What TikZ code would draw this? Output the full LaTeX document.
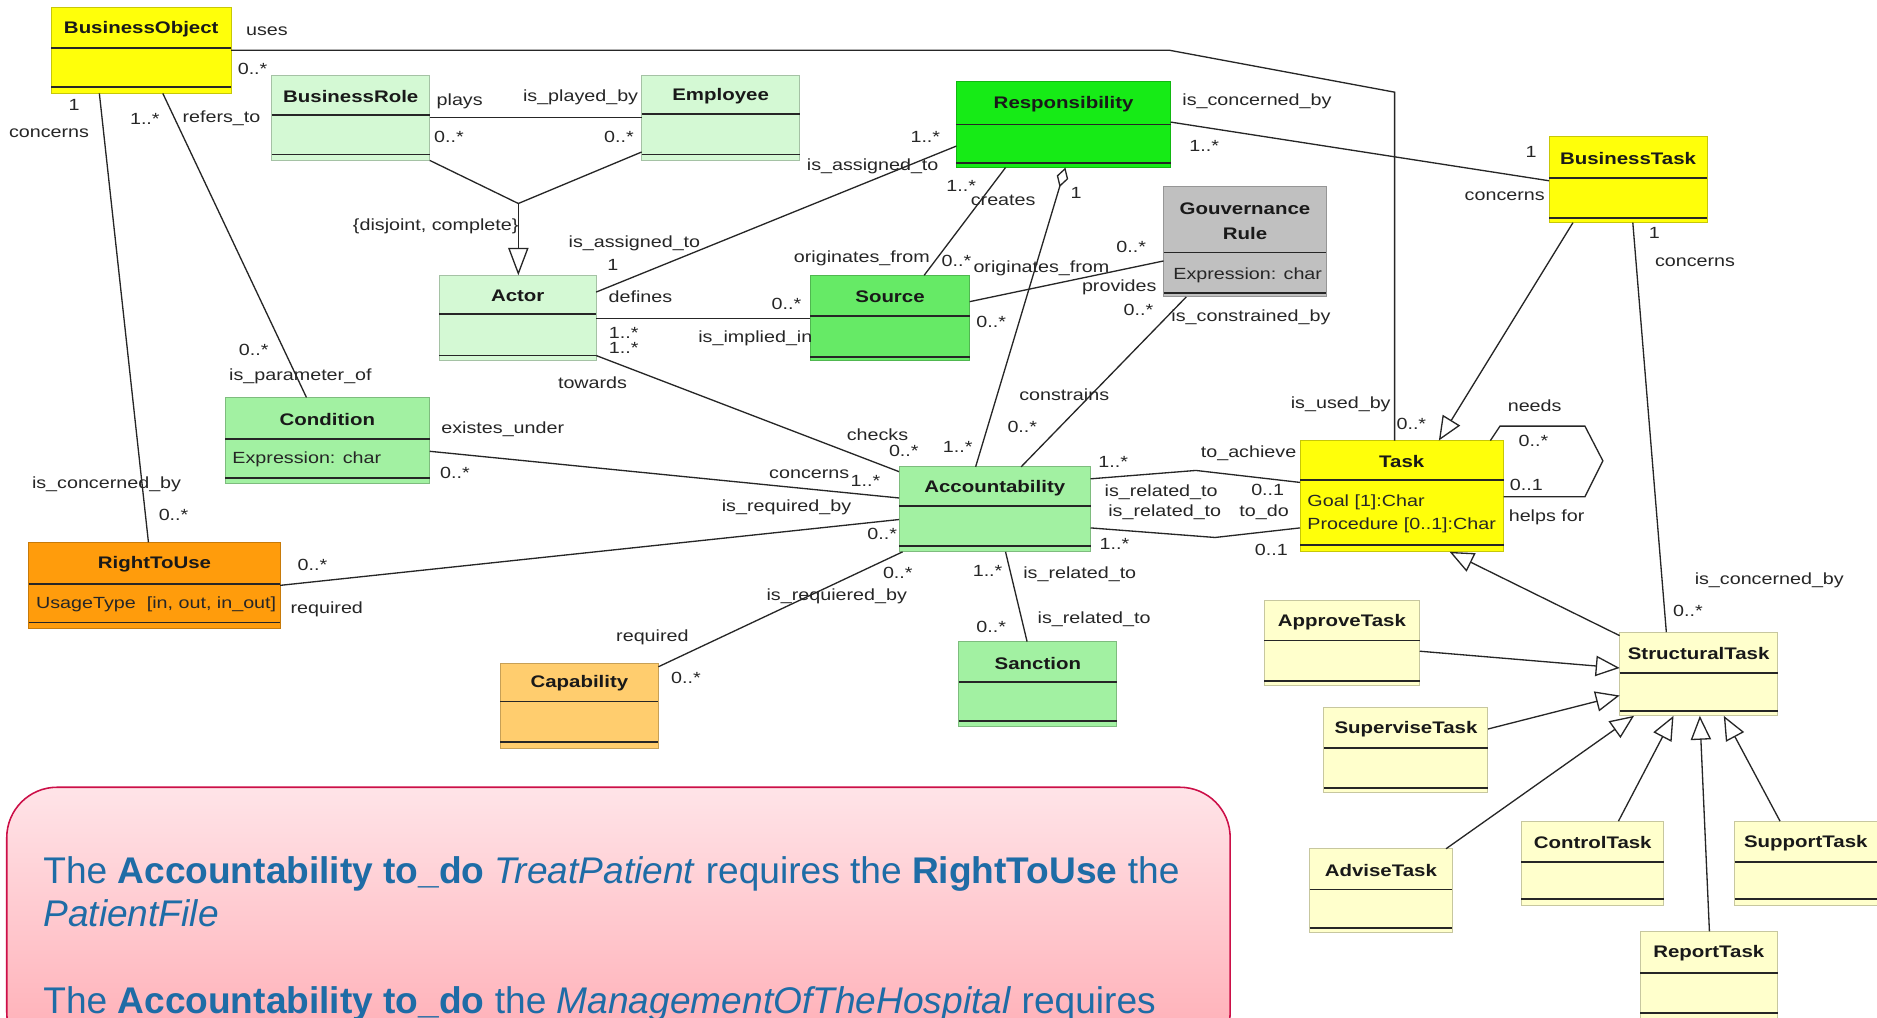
\documentclass[tikz,border=0pt]{standalone}
\usepackage{fontspec}
\setmainfont{Liberation Sans}
\newfontfamily\umlfont[FakeStretch=1.22]{Liberation Sans}
\usetikzlibrary{arrows.meta}

\definecolor{cYellow}{HTML}{FFFF0A}
\definecolor{cPaleGreen}{HTML}{D4F9D4}
\definecolor{cGreen}{HTML}{16EB16}
\definecolor{cSrcGreen}{HTML}{66EA66}
\definecolor{cMidGreen}{HTML}{A2F1A2}
\definecolor{cGrey}{HTML}{C0C0C0}
\definecolor{cOrange}{HTML}{FF9C0C}
\definecolor{cLightOrange}{HTML}{FFCD6E}
\definecolor{cPaleYellow}{HTML}{FFFFCC}
\definecolor{cNote}{HTML}{1E6CA6}
\definecolor{cNoteBorder}{HTML}{CC0F48}
\definecolor{cNoteTop}{HTML}{FFE4E8}
\definecolor{cNoteBottom}{HTML}{FFABB3}

\tikzset{
  classbox/.style={inner sep=0pt, outer sep=0pt, line width=0.8pt},
  sepline/.style={line width=1.5pt, draw=black!85},
  titletext/.style={font=\umlfont\fontsize{14}{21}\selectfont\bfseries, text=black!90, inner sep=0pt, align=center},
  attrtext/.style={font=\umlfont\fontsize{13.5}{19}\selectfont, text=black!85, inner sep=0pt, anchor=west},
  lbl/.style={font=\umlfont\fontsize{13.5}{15}\selectfont, text=black!85, inner sep=0pt},
  assoc/.style={draw=black!85, line width=1.1pt},
  gen/.style={assoc, -{Triangle[open, length=20pt, width=17pt, line width=1.1pt]}},
  aggr/.style={assoc, {Diamond[open, length=17pt, width=10pt, line width=1.1pt]}-},
  notetext/.style={font=\fontsize{31}{37}\selectfont, text=cNote, inner sep=0pt, anchor=base west}
}

% class box: name, x1, y1, x2, y2, first separator, second separator, fill, title
\newcommand\umlbox[9]{%
  \pgfmathsetmacro\boxw{#4-#2}%
  \pgfmathsetmacro\boxh{#5-#3}%
  \node[classbox, fill=#8, draw=#8!78!black, minimum width=\boxw pt, minimum height=\boxh pt, anchor=north west] (#1) at (#2,#3) {};
  \draw[sepline] (#2,#6) -- (#4,#6);
  \draw[sepline] (#2,#7) -- (#4,#7);
  \node[titletext] (#1-name) at ({(#2+#4)/2},{(#3+#6)/2+1}) {#9};
}

\begin{document}
\begin{tikzpicture}[x=1pt,y=-1pt]
\useasboundingbox (0,0) rectangle (1568,850);
\fill[white] (0,0) rectangle (1568,850);

% ---------- note at the bottom ----------
\begin{scope}
\clip (0,0) rectangle (1568,850);
\node[draw=cNoteBorder, line width=1.3pt, rounded corners=42pt, top color=cNoteTop, bottom color=cNoteBottom,
      minimum width=1022pt, minimum height=230pt, anchor=north west, inner sep=0pt] (note) at (5,657) {};
\node[notetext] (note-1) at (36,738) {The \textbf{Accountability to\_do} \textit{TreatPatient} requires the \textbf{RightToUse} the};
\node[notetext] (note-2) at (36,774) {\textit{PatientFile}};
\node[notetext] (note-3) at (36,847) {The \textbf{Accountability to\_do} the \textit{ManagementOfTheHospital} requires};
\end{scope}

% ---------- classes ----------
\umlbox{bo}{43}{6}{193}{78}{40}{73}{cYellow}{BusinessObject}
\umlbox{brole}{227}{63}{359}{134}{96}{129}{cPaleGreen}{BusinessRole}
\umlbox{emp}{536}{63}{668}{134}{95}{129}{cPaleGreen}{Employee}
\umlbox{resp}{799}{68}{978}{140}{104}{136}{cGreen}{Responsibility}
\umlbox{gov}{972}{156}{1108}{248}{211}{245}{cGrey}{Gouvernance\\Rule}
\umlbox{btask}{1294}{114}{1426}{186}{149}{182}{cYellow}{BusinessTask}
\umlbox{actor}{367}{230}{498}{301}{262}{297}{cPaleGreen}{Actor}
\umlbox{src}{677}{230}{810}{301}{264}{298}{cSrcGreen}{Source}
\umlbox{cond}{188}{332}{359}{404}{367}{399}{cMidGreen}{Condition}
\umlbox{acc}{751}{390}{911}{461}{423}{456}{cMidGreen}{Accountability}
\umlbox{task}{1086}{368}{1256}{461}{401}{455}{cYellow}{Task}
\umlbox{rtu}{24}{453}{234}{525}{488}{520}{cOrange}{RightToUse}
\umlbox{cap}{418}{554}{550}{625}{586}{620}{cLightOrange}{Capability}
\umlbox{sanc}{801}{536}{933}{607}{570}{602}{cMidGreen}{Sanction}
\umlbox{approve}{1056}{502}{1186}{573}{535}{569}{cPaleYellow}{ApproveTask}
\umlbox{supervise}{1106}{591}{1243}{662}{625}{658}{cPaleYellow}{SuperviseTask}
\umlbox{struct}{1353}{528}{1485}{598}{562}{594}{cPaleYellow}{StructuralTask}
\umlbox{advise}{1094}{709}{1213}{779}{743}{775}{cPaleYellow}{AdviseTask}
\umlbox{control}{1271}{686}{1390}{756}{720}{751}{cPaleYellow}{ControlTask}
\umlbox{support}{1449}{686}{1568}{756}{720}{751}{cPaleYellow}{SupportTask}
\umlbox{report}{1370}{778}{1485}{852}{813}{846}{cPaleYellow}{ReportTask}

% attributes
\node[attrtext] (gov-a) at (980,230) {Expression: char};
\node[attrtext] (cond-a) at (194,384) {Expression: char};
\node[attrtext] (task-a1) at (1092,420) {Goal [1]:Char};
\node[attrtext] (task-a2) at (1092,439) {Procedure [0..1]:Char};
\node[attrtext] (rtu-a) at (30,505) {UsageType\ \ [in, out, in\_out]};

% ---------- connectors ----------
\draw[assoc] (bo.east |- 0,42) -- (977,42) -- (1165,77) -- (task.north -| 1165,0);
\draw[assoc] (bo.south -| 83,0) -- (rtu.north -| 124,0);
\draw[assoc] (bo.south -| 136,0) -- (cond.north -| 256,0);
\draw[assoc] (brole.east |- 0,98) -- (emp.west |- 0,98);
\coordinate (gjoin) at (433,170);
\draw[assoc] (brole.south east) -- (gjoin);
\draw[assoc] (emp.west |- 0,127) -- (gjoin);
\draw[gen, -{Triangle[open, length=23pt, width=17pt, line width=1.1pt]}] (gjoin) -- (actor.north -| gjoin);
\draw[assoc] (actor.east |- 0,244) -- (resp.west |- 0,122);
\draw[assoc] (actor.east |- 0,266) -- (src.west |- 0,266);
\draw[assoc] (actor.east |- 0,297) -- (acc.west |- 0,394);
\draw[assoc] (resp.south -| 840,0) -- (src.north -| 772,0);
\draw[aggr] (resp.south -| 890,0) -- (acc.north -| 815,0);
\draw[assoc] (src.east |- 0,252) -- (gov.west |- 0,218);
\draw[assoc] (gov.south -| 991,0) -- (acc.north -| 853,0);
\draw[assoc] (resp.east |- 0,102) -- (btask.west |- 0,151);
\draw[gen] (btask.south -| 1314,0) -- (task.north -| 1202,0);
\draw[assoc] (btask.south -| 1364,0) -- (struct.north -| 1392,0);
\draw[assoc] (task.north -| 1245,0) -- (1253,356) -- (1324,356) -- (1339,385) -- (1324,415) -- (task.east |- 0,415);
\draw[assoc] (acc.east |- 0,400) -- (999,393) -- (task.west |- 0,403);
\draw[assoc] (acc.east |- 0,441) -- (1015,449) -- (task.west |- 0,441);
\draw[assoc] (cond.east |- 0,377) -- (acc.west |- 0,416);
\draw[assoc] (rtu.east |- 0,489) -- (acc.west |- 0,434);
\draw[assoc] (cap.east |- 0,557) -- (acc.south -| 754,0);
\draw[assoc] (acc.south -| 840,0) -- (sanc.north -| 858,0);
\draw[gen] (struct.west |- 0,531) -- (task.south -| 1211,0);
\draw[gen] (approve.east |- 0,544) -- (struct.west |- 0,558);
\draw[gen] (supervise.east |- 0,609) -- (struct.west |- 0,581);
\draw[gen] (advise.north -| 1208,0) -- (struct.south -| 1365,0);
\draw[gen] (control.north -| 1352,0) -- (struct.south -| 1398,0);
\draw[gen] (report.north -| 1428,0) -- (struct.south -| 1420,0);
\draw[gen] (support.north -| 1487,0) -- (struct.south -| 1440,0);

% ---------- role names and multiplicities ----------
\node[lbl] (l1) at (223,26) {uses};
\node[lbl] (l2) at (211,58) {0..*};
\node[lbl] (l3) at (62,88) {1};
\node[lbl] (l4) at (41,111) {concerns};
\node[lbl] (l5) at (121,99) {1..*};
\node[lbl] (l6) at (185,99) {refers\_to};
\node[lbl] (l7) at (384,85) {plays};
\node[lbl] (l8) at (485,81) {is\_played\_by};
\node[lbl] (l9) at (375,114) {0..*};
\node[lbl] (l10) at (517,114) {0..*};
\node[lbl] (l11) at (364,189) {\{disjoint, complete\}};
\node[lbl] (l12) at (530,203) {is\_assigned\_to};
\node[lbl] (l13) at (512,221) {1};
\node[lbl] (l14) at (535,248) {defines};
\node[lbl] (l15) at (521,278) {1..*};
\node[lbl] (l16) at (521,291) {1..*};
\node[lbl] (l17) at (495,320) {towards};
\node[lbl] (l18) at (212,292) {0..*};
\node[lbl] (l19) at (251,314) {is\_parameter\_of};
\node[lbl] (l20) at (89,405) {is\_concerned\_by};
\node[lbl] (l21) at (145,430) {0..*};
\node[lbl] (l22) at (773,114) {1..*};
\node[lbl] (l23) at (729,139) {is\_assigned\_to};
\node[lbl] (l24) at (803,155) {1..*};
\node[lbl] (l25) at (838,167) {creates};
\node[lbl] (l26) at (899,161) {1};
\node[lbl] (l27) at (720,216) {originates\_from};
\node[lbl] (l28) at (799,218) {0..*};
\node[lbl] (l29) at (870,224) {originates\_from};
\node[lbl] (l30) at (945,206) {0..*};
\node[lbl] (l31) at (935,240) {provides};
\node[lbl] (l32) at (951,259) {0..*};
\node[lbl] (l33) at (1045,265) {is\_constrained\_by};
\node[lbl] (l34) at (657,254) {0..*};
\node[lbl] (l35) at (631,283) {is\_implied\_in};
\node[lbl] (l36) at (828,269) {0..*};
\node[lbl] (l37) at (1050,85) {is\_concerned\_by};
\node[lbl] (l38) at (1006,122) {1..*};
\node[lbl] (l39) at (1279,127) {1};
\node[lbl] (l40) at (1257,164) {concerns};
\node[lbl] (l41) at (1382,195) {1};
\node[lbl] (l42) at (1416,219) {concerns};
\node[lbl] (l43) at (1120,338) {is\_used\_by};
\node[lbl] (l44) at (1179,354) {0..*};
\node[lbl] (l45) at (1282,339) {needs};
\node[lbl] (l46) at (1281,368) {0..*};
\node[lbl] (l47) at (1275,405) {0..1};
\node[lbl] (l48) at (1292,432) {helps for};
\node[lbl] (l49) at (1478,485) {is\_concerned\_by};
\node[lbl] (l50) at (1410,510) {0..*};
\node[lbl] (l51) at (889,330) {constrains};
\node[lbl] (l52) at (854,357) {0..*};
\node[lbl] (l53) at (733,363) {checks};
\node[lbl] (l54) at (755,377) {0..*};
\node[lbl] (l55) at (800,373) {1..*};
\node[lbl] (l56) at (420,359) {existes\_under};
\node[lbl] (l57) at (380,395) {0..*};
\node[lbl] (l58) at (676,396) {concerns};
\node[lbl] (l59) at (723,402) {1..*};
\node[lbl] (l60) at (657,424) {is\_required\_by};
\node[lbl] (l61) at (737,446) {0..*};
\node[lbl] (l62) at (261,472) {0..*};
\node[lbl] (l63) at (273,509) {required};
\node[lbl] (l64) at (545,532) {required};
\node[lbl] (l65) at (573,566) {0..*};
\node[lbl] (l66) at (750,479) {0..*};
\node[lbl] (l67) at (699,498) {is\_requiered\_by};
\node[lbl] (l68) at (825,477) {1..*};
\node[lbl] (l69) at (902,480) {is\_related\_to};
\node[lbl] (l70) at (828,524) {0..*};
\node[lbl] (l71) at (914,517) {is\_related\_to};
\node[lbl] (l72) at (930,386) {1..*};
\node[lbl] (l73) at (1043,379) {to\_achieve};
\node[lbl] (l74) at (970,411) {is\_related\_to};
\node[lbl] (l75) at (1059,409) {0..1};
\node[lbl] (l76) at (973,428) {is\_related\_to};
\node[lbl] (l77) at (1056,428) {to\_do};
\node[lbl] (l78) at (931,454) {1..*};
\node[lbl] (l79) at (1062,459) {0..1};
\end{tikzpicture}
\end{document}
